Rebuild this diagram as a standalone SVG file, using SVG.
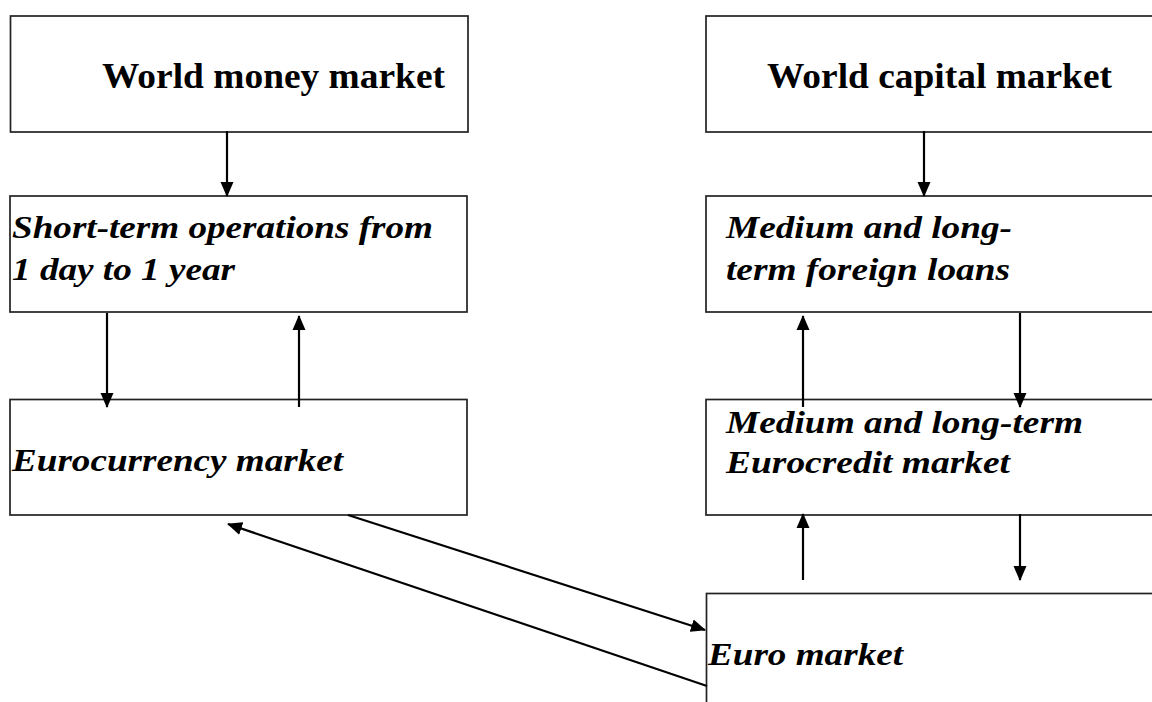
<svg xmlns="http://www.w3.org/2000/svg" width="1152" height="702" viewBox="0 0 1152 702">
<defs>
<marker id="ah" markerUnits="userSpaceOnUse" markerWidth="15" markerHeight="14" refX="14" refY="7" orient="auto">
<path d="M0,0.5 L15,7 L0,13.5 Z" fill="#000"/>
</marker>
<style>
.box{fill:#fff;stroke:#222;stroke-width:1.7}
.t{font-family:"Liberation Serif","Times New Roman",serif;font-weight:bold;fill:#000}
.i{font-style:italic}
.c{stroke:#000;stroke-width:2.2;fill:none;marker-end:url(#ah)}
</style>
</defs>
<rect width="1152" height="702" fill="#fff"/>
<g id="world-money">
<rect class="box" x="10.5" y="16" width="457.5" height="116"/>
<text class="t" x="102" y="88" font-size="36" textLength="343" lengthAdjust="spacingAndGlyphs">World money market</text>
</g>
<g id="world-capital">
<rect class="box" x="706" y="16" width="460" height="116"/>
<text class="t" x="767" y="88" font-size="36" textLength="345" lengthAdjust="spacingAndGlyphs">World capital market</text>
</g>
<g id="short-term">
<rect class="box" x="10" y="196" width="457" height="116"/>
<text class="t i" x="12" y="238" font-size="32" textLength="421" lengthAdjust="spacingAndGlyphs">Short-term operations from</text>
<text class="t i" x="12" y="280" font-size="32" textLength="223" lengthAdjust="spacingAndGlyphs">1 day to 1 year</text>
</g>
<g id="foreign-loans">
<rect class="box" x="706" y="196" width="460" height="116"/>
<text class="t i" x="726" y="238" font-size="32" textLength="286" lengthAdjust="spacingAndGlyphs">Medium and long-</text>
<text class="t i" x="726" y="280" font-size="32" textLength="284" lengthAdjust="spacingAndGlyphs">term foreign loans</text>
</g>
<g id="eurocurrency">
<rect class="box" x="10" y="399.5" width="457" height="115.5"/>
<text class="t i" x="12" y="471" font-size="32" textLength="331" lengthAdjust="spacingAndGlyphs">Eurocurrency market</text>
</g>
<g id="eurocredit">
<rect class="box" x="706" y="399.5" width="460" height="115.5"/>
<text class="t i" x="726" y="433" font-size="32" textLength="357" lengthAdjust="spacingAndGlyphs">Medium and long-term</text>
<text class="t i" x="726" y="473" font-size="32" textLength="284" lengthAdjust="spacingAndGlyphs">Eurocredit market</text>
</g>
<g id="euro-market">
<rect class="box" x="706.5" y="593.5" width="460" height="130"/>
<text class="t i" x="708" y="665" font-size="32" textLength="195" lengthAdjust="spacingAndGlyphs">Euro market</text>
</g>
<g id="connectors">
<line class="c" x1="227" y1="131" x2="227" y2="196"/>
<line class="c" x1="107" y1="313" x2="107" y2="407"/>
<line class="c" x1="299" y1="407" x2="299" y2="316"/>
<line class="c" x1="924" y1="131" x2="924" y2="196"/>
<line class="c" x1="803" y1="407" x2="803" y2="316"/>
<line class="c" x1="1020" y1="313" x2="1020" y2="407"/>
<line class="c" x1="803" y1="580" x2="803" y2="514"/>
<line class="c" x1="1020" y1="514" x2="1020" y2="580"/>
<line class="c" x1="348" y1="515" x2="705" y2="630"/>
<line class="c" x1="707" y1="686" x2="228" y2="524"/>
</g>
</svg>
